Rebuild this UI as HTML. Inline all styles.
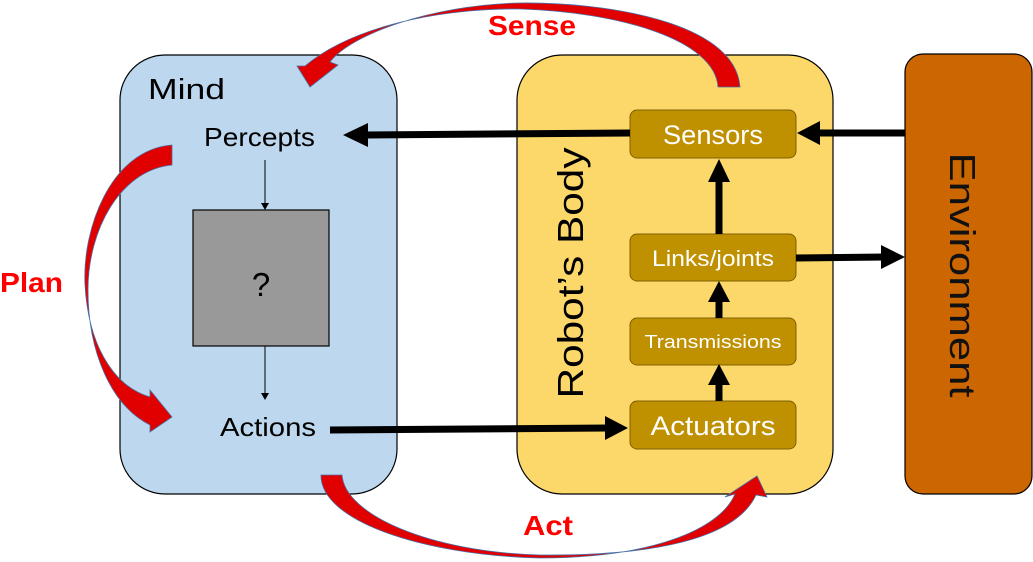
<!DOCTYPE html>
<html><head><meta charset="utf-8"><style>
html,body{margin:0;padding:0;background:#fff;}
svg{display:block;}
text{font-family:"Liberation Sans",sans-serif;}
</style></head><body>
<svg width="1033" height="562" viewBox="0 0 1033 562" xmlns="http://www.w3.org/2000/svg">
<rect x="120" y="55" width="277" height="439" rx="45" fill="#BDD7EE" stroke="#000" stroke-width="1.2"/>
<rect x="517" y="55" width="316" height="439" rx="45" fill="#FCD86B" stroke="#000" stroke-width="1.2"/>
<rect x="905" y="54" width="127" height="440" rx="18" fill="#CC6600" stroke="#000" stroke-width="1.2"/>
<text x="0" y="0" transform="translate(950,275) rotate(90)" font-size="36" text-anchor="middle" textLength="245" lengthAdjust="spacingAndGlyphs" fill="#111">Environment</text>

<text x="148" y="99" font-size="29" textLength="77" lengthAdjust="spacingAndGlyphs">Mind</text>
<text x="204" y="146" font-size="26" textLength="111" lengthAdjust="spacingAndGlyphs">Percepts</text>
<text x="220" y="436" font-size="26" textLength="96" lengthAdjust="spacingAndGlyphs">Actions</text>
<rect x="193" y="210" width="136" height="136" fill="#999" stroke="#000" stroke-width="1.2"/>
<text x="261" y="296" font-size="33" text-anchor="middle">?</text>
<line x1="265" y1="160" x2="265" y2="204" stroke="#000" stroke-width="1"/>
<polygon points="261,203 269,203 265,210" fill="#000"/>
<line x1="265" y1="346" x2="265" y2="394" stroke="#000" stroke-width="1"/>
<polygon points="261,393 269,393 265,400" fill="#000"/>

<text x="0" y="0" transform="translate(583,273) rotate(-90)" font-size="36" text-anchor="middle" textLength="251" lengthAdjust="spacingAndGlyphs">Robot’s Body</text>

<g fill="#BF9000" stroke="#7F6000" stroke-width="1">
<rect x="630" y="110" width="166" height="48" rx="7"/>
<rect x="630" y="234" width="166" height="47" rx="7"/>
<rect x="630" y="318" width="166" height="47" rx="7"/>
<rect x="630" y="401" width="166" height="48" rx="7"/>
</g>
<g fill="#fff" text-anchor="middle">
<text x="713" y="144" font-size="27" textLength="100" lengthAdjust="spacingAndGlyphs">Sensors</text>
<text x="713" y="266" font-size="22" textLength="122" lengthAdjust="spacingAndGlyphs">Links/joints</text>
<text x="713" y="348" font-size="18" textLength="137" lengthAdjust="spacingAndGlyphs">Transmissions</text>
<text x="713" y="435" font-size="27" textLength="125" lengthAdjust="spacingAndGlyphs">Actuators</text>
</g>

<g stroke="#000" stroke-width="7" fill="none">
<line x1="630" y1="133" x2="365" y2="135"/>
<line x1="905" y1="133" x2="815" y2="133"/>
<line x1="796" y1="258" x2="885" y2="257"/>
<line x1="330" y1="430" x2="608" y2="428"/>
<line x1="719" y1="234" x2="719" y2="178"/>
<line x1="719" y1="318" x2="719" y2="298"/>
<line x1="719" y1="401" x2="719" y2="382"/>
</g>
<g fill="#000">
<polygon points="343,135 368,123 368,147"/>
<polygon points="797,133 820,121 820,145"/>
<polygon points="905,257 881,245 881,269"/>
<polygon points="628,428 605,416 605,440"/>
<polygon points="719,159 708,182 730,182"/>
<polygon points="719,281 708,302 730,302"/>
<polygon points="719,364 708,385 730,385"/>
</g>

<path d="M740,87 C735,20 600,2 520,3 C430,5 350,35 330,62 L338,65 L310,87 L297,66 L305,66 C360,20 460,8 520,9 C620,12 715,40 718,87 Z" fill="#E00000" stroke="#4A6FA5" stroke-width="0.8"/>
<text x="532" y="35" font-size="28" font-weight="bold" fill="#FF0000" text-anchor="middle" textLength="88" lengthAdjust="spacingAndGlyphs">Sense</text>

<path d="M172,145 C110,150 82,230 85,285 C88,340 110,385 150,397 L150,390 L172,417 L150,432 L150,425 C110,405 88,350 88,290 C88,230 120,170 172,165 Z" fill="#E00000" stroke="#4A6FA5" stroke-width="0.8"/>
<text x="0" y="292" font-size="28" font-weight="bold" fill="#FF0000" textLength="63" lengthAdjust="spacingAndGlyphs">Plan</text>

<path d="M321,475 C320,520 420,555 540,558 C650,558 720,530 735,494 L725,497 L757,476 L767,497 L756,495 C735,540 650,556 540,555 C430,552 345,515 342,475 Z" fill="#E00000" stroke="#4A6FA5" stroke-width="0.8"/>
<text x="548" y="535" font-size="28" font-weight="bold" fill="#FF0000" text-anchor="middle" textLength="50" lengthAdjust="spacingAndGlyphs">Act</text>
</svg>
</body></html>
